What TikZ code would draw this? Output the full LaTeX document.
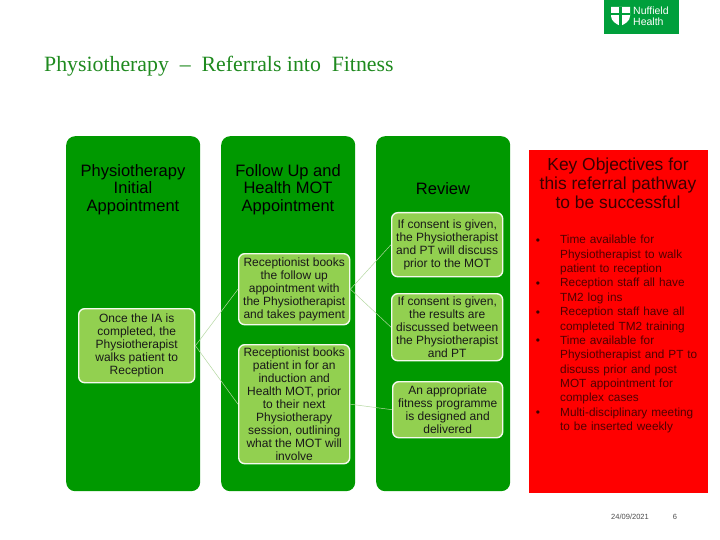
\documentclass[tikz,border=0pt]{standalone}
\usepackage{fontspec}
\setmainfont{Liberation Sans}
\newfontfamily\titlefont{Liberation Serif}
\definecolor{panelgreen}{HTML}{009900}
\definecolor{logogreen}{HTML}{009F3B}
\definecolor{innergreen}{HTML}{92D050}
\definecolor{titlegreen}{HTML}{1F8A1F}
\definecolor{keyred}{HTML}{FF0000}
\definecolor{keytitle}{HTML}{3A0000}
\definecolor{keytext}{HTML}{500000}
\definecolor{linkgreen}{HTML}{B4D8A0}
\tikzset{
  panel/.style={fill=panelgreen,rounded corners=9pt,minimum width=134pt,minimum height=355pt,anchor=north west,inner sep=0pt},
  inner/.style={fill=innergreen,draw=white!90!innergreen,line width=1.4pt,rounded corners=6pt,anchor=north west,inner sep=0pt,align=center,font=\fontsize{12}{12.95}\selectfont,text=black!90},
  head/.style={align=center,font=\fontsize{16.5}{17.6}\selectfont,text=black,inner sep=0pt},
  link/.style={draw=linkgreen,line width=0.5pt},
  bullet/.style={anchor=base,inner sep=0pt,font=\fontsize{12}{14}\selectfont,text=keytitle},
  keyline/.style={anchor=north west,inner sep=0pt,align=left,text width=148pt,font=\fontsize{11.8}{14.4}\selectfont,text=keytext}
}
\begin{document}
\begin{tikzpicture}[x=1pt,y=-1pt]
\useasboundingbox (0,0) rectangle (720,540);
\fill[white] (0,0) rectangle (720,540);
% logo
\node[fill=logogreen,minimum width=75pt,minimum height=34pt,anchor=north west,inner sep=0pt] (logo) at (604,0) {};
\path[fill=white] (611,7) -- (630,7) -- (630,16) .. controls (630,21) and (625,24) .. (620.5,26) .. controls (616,24) and (611,21) .. (611,16) -- cycle;
\fill[logogreen] (619.3,7) rectangle (621.7,26);
\fill[logogreen] (611,13) rectangle (630,15.4);
\node[anchor=west,inner sep=0pt,align=left,text=white,font=\fontsize{10.5}{11}\selectfont] (logotext) at (633,16.5) {Nuffield\\Health};
% title
\node[anchor=base west,inner sep=0pt,text=titlegreen,font=\titlefont\fontsize{21.8}{24}\selectfont] (title) at (44,72) {Physiotherapy\ \ –\ \ Referrals\ into\ \ Fitness};
% panels
\node[panel] (p1) at (66,136) {};
\node[panel] (p2) at (221,136) {};
\node[panel] (p3) at (376,136) {};
\node[anchor=north west,fill=keyred,minimum width=179pt,minimum height=343pt,inner sep=0pt] (red) at (529,150) {};
% heads
\node[head] (h1) at (133,189.5) {Physiotherapy\\Initial\\Appointment};
\node[head] (h2) at (288,189.5) {Follow Up and\\Health MOT\\Appointment};
\node[head] (h3) at (443,189) {Review};
% inner boxes
\node[inner,minimum width=116pt,minimum height=74pt] (a1) at (78,308) {Once the IA is\\completed, the\\Physiotherapist\\walks patient to\\Reception};
\node[inner,minimum width=111pt,minimum height=71pt] (b1) at (238,253) {Receptionist books\\the follow up\\appointment with\\the Physiotherapist\\and takes payment};
\node[inner,minimum width=111pt,minimum height=119pt] (b2) at (238,344) {Receptionist books\\patient in for an\\induction and\\Health MOT, prior\\to their next\\Physiotherapy\\session, outlining\\what the MOT will\\involve};
\node[inner,minimum width=111pt,minimum height=64pt] (c1) at (391,212) {If consent is given,\\the Physiotherapist\\and PT will discuss\\prior to the MOT};
\node[inner,minimum width=111pt,minimum height=67pt] (c2) at (391,293) {If consent is given,\\the results are\\discussed between\\the Physiotherapist\\and PT};
\node[inner,minimum width=110pt,minimum height=56pt] (c3) at (392,381) {An appropriate\\fitness programme\\is designed and\\delivered};
% connectors
\draw[link] (a1.east) -- (b1.west);
\draw[link] (a1.east) -- (b2.west);
\draw[link] (b1.east) -- (c1.west);
\draw[link] (b1.east) -- (c2.west);
\draw[link] (b2.east) -- (c3.west);
% key objectives
\node[align=center,inner sep=0pt,text=keytitle,font=\fontsize{17.4}{19}\selectfont] (kt) at (618,183.5) {Key Objectives for\\this referral pathway\\to be successful};
\node[keyline] (k1) at (560,235) {Time available for\\Physiotherapist to walk\\patient to reception};
\node[keyline] (k2) at (560,278) {Reception staff all have\\TM2 log ins};
\node[keyline] (k3) at (560,307) {Reception staff have all\\completed TM2 training};
\node[keyline] (k4) at (560,335.5) {Time available for\\Physiotherapist and PT to\\discuss prior and post\\MOT appointment for\\complex cases};
\node[keyline] (k5) at (560,407.5) {Multi-disciplinary meeting\\to be inserted weekly};
\node[bullet] (b-1) at (538,244) {•};
\node[bullet] (b-2) at (538,287) {•};
\node[bullet] (b-3) at (538,316) {•};
\node[bullet] (b-4) at (538,344) {•};
\node[bullet] (b-5) at (538,416) {•};
% footer
\node[inner sep=0pt,font=\fontsize{7.5}{9}\selectfont,text=black!70] (date) at (630,517) {24/09/2021};
\node[inner sep=0pt,font=\fontsize{7.5}{9}\selectfont,text=black!70] (num) at (675,517) {6};
\end{tikzpicture}
\end{document}
